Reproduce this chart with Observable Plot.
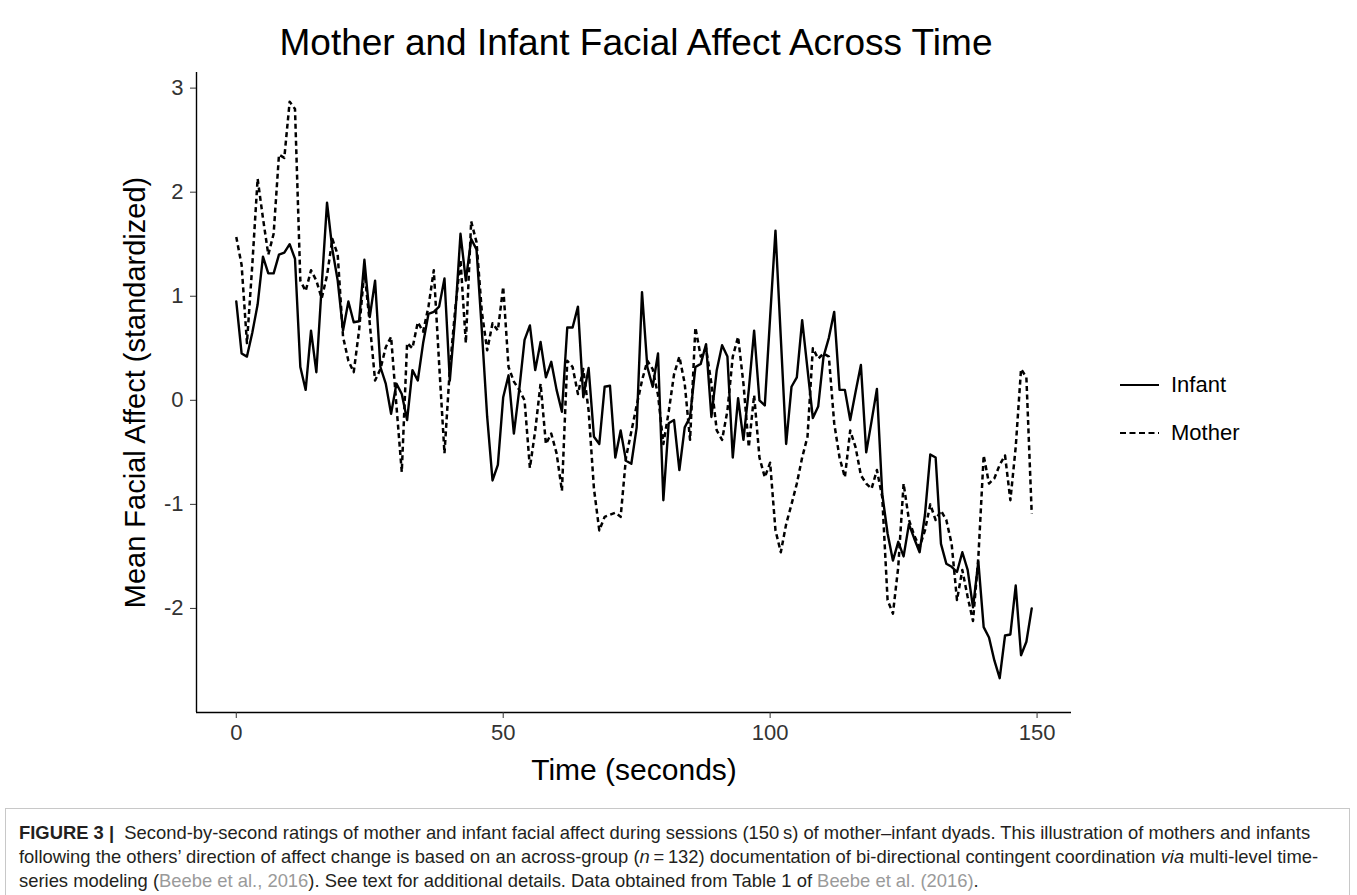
<!DOCTYPE html>
<html>
<head>
<meta charset="utf-8">
<script src="https://cdn.jsdelivr.net/npm/d3@7"></script>
<script src="https://cdn.jsdelivr.net/npm/@observablehq/plot@0.6"></script>
<style>
  body { margin: 0; background: #fff; font-family: "Liberation Sans", Arial, Helvetica, sans-serif; }
  #wrap { position: relative; width: 1357px; height: 895px; overflow: hidden; background: #fff; }
  #title { position: absolute; left: 196px; width: 880px; top: 24px; text-align: center;
           font-size: 37px; line-height: 37px; color: #000; white-space: nowrap; }
  #chart { position: absolute; left: 0; top: 70px; }
  #legend { position: absolute; left: 1120px; top: 365px; font-size: 22px; color: #000; }
  #legend .row { display: flex; align-items: center; height: 40px; margin-bottom: 8px; }
  #legend .row span { margin-left: 11px; }
  #caption { position: absolute; left: 5px; top: 808px; width: 1345px; height: 120px;
             border: 1px solid #c8c8c8; border-bottom: none; box-sizing: border-box;
             padding: 12px 0 0 13px; font-size: 18.4px; line-height: 24px; color: #231f20; white-space: nowrap; }
  #caption .cite { color: #9a9a9a; }
</style>
</head>
<body>
<div id="wrap">
  <div id="title">Mother and Infant Facial Affect Across Time</div>
  <div id="chart"></div>
  <div id="legend"></div>
  <div id="caption">
    <b>FIGURE 3</b> <b>|</b>&nbsp; Second-by-second ratings of mother and infant facial affect during sessions (150&#8201;s) of mother–infant dyads. This illustration of mothers and infants<br>
    following the others’ direction of affect change is based on an across-group (<i>n</i>&#8201;=&#8201;132) documentation of bi-directional contingent coordination <i>via</i> multi-level time-<br>
    series modeling (<span class="cite">Beebe et al., 2016</span>). See text for additional details. Data obtained from Table 1 of <span class="cite">Beebe et al. (2016)</span>.
  </div>
</div>
<script>
// Series labels
const seriesNames = ["Infant", "Mother"];

// Mean facial affect (standardized), one value per second, t = 0..149
const infant = [
  0.95, 0.45, 0.42, 0.65, 0.92, 1.38, 1.22, 1.22, 1.40, 1.42,
  1.50, 1.36, 0.32, 0.10, 0.67, 0.27, 1.10, 1.90, 1.45, 1.15,
  0.67, 0.95, 0.75, 0.76, 1.35, 0.80, 1.15, 0.32, 0.16, -0.13,
  0.16, 0.06, -0.19, 0.29, 0.19, 0.55, 0.83, 0.85, 0.90, 1.17,
  0.19, 0.80, 1.60, 1.15, 1.55, 1.45, 0.67, -0.16, -0.77, -0.62,
  0.03, 0.24, -0.32, 0.10, 0.58, 0.72, 0.29, 0.56, 0.22, 0.37,
  0.10, -0.11, 0.70, 0.70, 0.90, 0.03, 0.31, -0.35, -0.42, 0.13,
  0.14, -0.55, -0.29, -0.58, -0.61, -0.26, 1.04, 0.32, 0.13, 0.45,
  -0.96, -0.22, -0.19, -0.67, -0.26, -0.16, 0.32, 0.35, 0.54, -0.16,
  0.29, 0.53, 0.42, -0.55, 0.02, -0.38, 0.10, 0.67, 0.00, -0.05,
  0.80, 1.63, 0.60, -0.42, 0.13, 0.22, 0.77, 0.30, -0.17, -0.06,
  0.42, 0.60, 0.85, 0.10, 0.10, -0.19, 0.08, 0.34, -0.50, -0.20,
  0.11, -0.90, -1.28, -1.54, -1.36, -1.50, -1.19, -1.33, -1.46, -1.10,
  -0.52, -0.55, -1.38, -1.57, -1.60, -1.65, -1.46, -1.63, -1.99, -1.55,
  -2.18, -2.28, -2.50, -2.67, -2.26, -2.25, -1.78, -2.45, -2.32, -2.00
];

const mother = [
  1.57, 1.30, 0.55, 1.30, 2.13, 1.75, 1.40, 1.60, 2.36, 2.33,
  2.87, 2.80, 1.15, 1.05, 1.25, 1.15, 0.98, 1.20, 1.55, 1.40,
  0.61, 0.38, 0.27, 0.67, 1.25, 0.74, 0.19, 0.30, 0.51, 0.61,
  -0.05, -0.69, 0.55, 0.50, 0.75, 0.66, 0.90, 1.25, 0.35, -0.51,
  0.30, 0.87, 1.35, 0.55, 1.72, 1.52, 0.85, 0.48, 0.74, 0.67,
  1.09, 0.32, 0.18, 0.10, 0.00, -0.65, -0.29, 0.16, -0.42, -0.32,
  -0.51, -0.87, 0.38, 0.32, 0.06, 0.30, -0.10, -0.85, -1.25, -1.12,
  -1.10, -1.08, -1.12, -0.55, -0.30, -0.05, 0.19, 0.38, 0.30, 0.05,
  -0.42, -0.11, 0.25, 0.42, 0.16, -0.38, 0.70, 0.42, 0.50, 0.16,
  -0.29, -0.38, -0.10, 0.42, 0.61, 0.16, -0.45, 0.05, -0.55, -0.74,
  -0.60, -1.25, -1.46, -1.19, -1.00, -0.80, -0.55, -0.35, 0.50, 0.40,
  0.45, 0.42, -0.22, -0.55, -0.74, -0.29, -0.45, -0.72, -0.80, -0.85,
  -0.67, -0.93, -1.92, -2.05, -1.60, -0.80, -1.15, -1.30, -1.41, -1.25,
  -1.00, -1.15, -1.06, -1.15, -1.38, -1.92, -1.63, -1.89, -2.12, -1.51,
  -0.53, -0.80, -0.75, -0.62, -0.53, -0.96, -0.45, 0.30, 0.22, -1.09
];

// Axis ticks
const xTicks = [0, 50, 100, 150];
const yTicks = [-2, -1, 0, 1, 2, 3];

// Axis titles
const xTitle = "Time (seconds)";
const yTitle = "Mean Facial Affect (standardized)";

const infantRows = infant.map((v, i) => ({t: i, v, who: seriesNames[0]}));
const motherRows = mother.map((v, i) => ({t: i, v, who: seriesNames[1]}));

const xDomain = [-7.45, 156.45];
const yDomain = [-3.0, 3.15];

const fontFamily = '"Liberation Sans", Arial, Helvetica, sans-serif';

const chart = Plot.plot({
  width: 1357,
  height: 738,
  marginLeft: 196,
  marginRight: 286,
  marginTop: 2,
  marginBottom: 96,
  x: {domain: xDomain},
  y: {domain: yDomain},
  style: {fontFamily, background: "transparent", color: "#333", overflow: "visible"},
  marks: [
    Plot.ruleX([xDomain[0]], {stroke: "#000", strokeWidth: 1.4}),
    Plot.ruleY([yDomain[0]], {stroke: "#000", strokeWidth: 1.4}),
    Plot.axisX(xTicks, {tickSize: 6, tickPadding: 6, fontSize: 22, label: null, tickFormat: d => String(d)}),
    Plot.axisY(yTicks, {tickSize: 6, tickPadding: 7, fontSize: 22, label: null, tickFormat: d => String(d)}),
    Plot.line(infantRows, {x: "t", y: "v", stroke: "#000", strokeWidth: 2.4}),
    Plot.line(motherRows, {x: "t", y: "v", stroke: "#000", strokeWidth: 2.5,
      strokeDasharray: "5,3.5", strokeLinecap: "butt"}),
    Plot.text([xTitle], {frameAnchor: "bottom", dy: 58, fontSize: 30, fill: "#000",
      textAnchor: "middle", lineAnchor: "middle"}),
    Plot.text([yTitle], {frameAnchor: "left", dx: -61, rotate: -90, fontSize: 29, fill: "#000",
      textAnchor: "middle", lineAnchor: "middle"})
  ]
});
document.getElementById("chart").appendChild(chart);

// Legend (HTML beside the plot)
const legend = document.getElementById("legend");
seriesNames.forEach((name, i) => {
  const row = document.createElement("div");
  row.className = "row";
  const dash = i === 1 ? ' stroke-dasharray="6,3.5"' : '';
  row.innerHTML = `<svg width="40" height="6" style="overflow:visible"><line x1="0" x2="39" y1="3" y2="3" stroke="#000" stroke-width="2.2"${dash}/></svg><span>${name}</span>`;
  legend.appendChild(row);
});
</script>
</body>
</html>
